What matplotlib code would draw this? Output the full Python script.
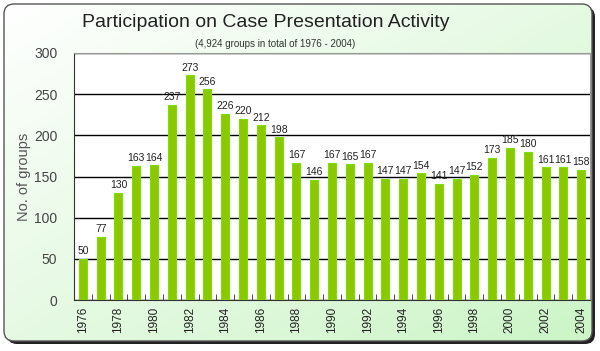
import numpy as np
import matplotlib.pyplot as plt
from matplotlib.patches import FancyBboxPatch

# data
years = list(range(1976, 2005))
groups = [50, 77, 130, 163, 164, 237, 273, 256, 226, 220, 212, 198, 167, 146,
          167, 165, 167, 147, 147, 154, 141, 147, 152, 173, 185, 180, 161, 161, 158]
yticks = [0, 50, 100, 150, 200, 250, 300]

plt.rcParams['font.family'] = ['Liberation Sans', 'DejaVu Sans']

fig = plt.figure(figsize=(6, 3.51), dpi=100)
fig.patch.set_facecolor('white')

# background panel with gradient and shadow
bg = fig.add_axes([0, 0, 1, 1], zorder=-1)
shadow = FancyBboxPatch((7, 7), 588, 337, boxstyle='round,pad=0,rounding_size=10',
                        fc='#222222', ec='none', zorder=0)
bg.add_patch(shadow)
gx, gy = np.meshgrid(np.linspace(0, 1, 200), np.linspace(0, 1, 200))
t = np.clip(0.5 * gx + 0.5 * gy, 0, 1)
c0 = np.array([1.0, 1.0, 1.0])
c1 = np.array([0.80, 0.96, 0.78])
img = c0 + (c1 - c0) * t[..., None]
im = bg.imshow(img, extent=(4, 592, 341, 4), aspect='auto', zorder=1)
panel = FancyBboxPatch((4, 4), 588, 337, boxstyle='round,pad=0,rounding_size=10',
                       fc='none', ec='#555555', lw=1.0, zorder=2)
bg.add_patch(panel)
im.set_clip_path(panel)
bg.set_xlim(0, 600)
bg.set_ylim(351, 0)
bg.axis('off')

# plot area
ax = fig.add_axes([74 / 600, 1 - 300 / 351, (590 - 74) / 600, (300 - 53) / 351])
ax.set_facecolor('white')
x = np.arange(len(years))
ax.bar(x, groups, width=0.45, color='#8CC800', edgecolor='#7AE000', lw=0.8, zorder=3)
ax.set_xlim(-0.5, len(years) - 0.5)
ax.set_ylim(0, 300)
ax.set_yticks(yticks)
ax.yaxis.grid(True, color='black', lw=1, zorder=0)
ax.tick_params(axis='y', length=0, labelsize=10, colors='#444444', pad=12)
ax.set_xticks(x[::2])
ax.set_xticklabels([str(y) for y in years[::2]], rotation=90, fontsize=8.5, color='#222222')
ax.set_xticks(np.arange(-0.5, len(years), 1), minor=True)
ax.tick_params(axis='x', which='minor', length=4, direction='in', color='#333333')
ax.tick_params(axis='x', which='major', length=0, pad=5)
for s in ['top', 'right']:
    ax.spines[s].set_color('#999999')
ax.spines['left'].set_color('#333333')
ax.spines['bottom'].set_color('#333333')

for xi, v in zip(x, groups):
    ax.text(xi, v + 3, str(v), ha='center', va='bottom', fontsize=7.5, color='#222222',
            zorder=4)

ax.set_ylabel('No. of groups', fontsize=10.5, color='#555555', labelpad=2)

fig.text(0.443, 0.937, 'Participation on Case Presentation Activity', ha='center',
         va='center', fontsize=14, color='#222222')
fig.text(0.458, 0.874, '(4,924 groups in total of 1976 - 2004)', ha='center',
         va='center', fontsize=7, color='#333333')

fig.savefig('out.png', dpi=100)
